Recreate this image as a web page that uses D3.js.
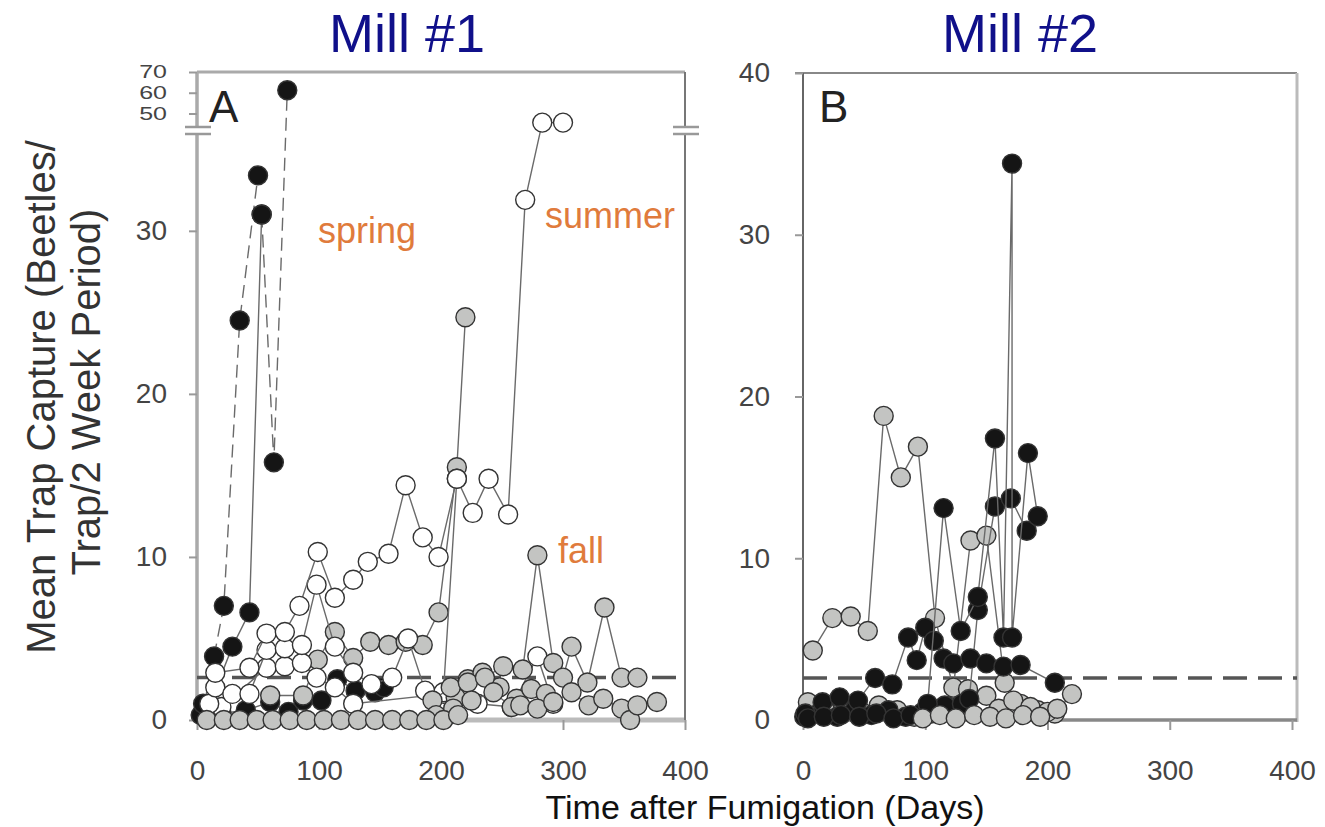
<!DOCTYPE html>
<html lang="en">
<head>
  <meta charset="UTF-8">
  <title>Mill #1 / Mill #2</title>
  <style>
    body { margin: 0; background: #fff; }
    svg { display: block; font-family: "Liberation Sans", Arial, sans-serif; }
    .tick text { fill: #444; font-size: 28px; }
  </style>
</head>
<body>
<svg id="chart" width="1325" height="827"></svg>

<script src="https://d3js.org/d3.v7.min.js"></script>
<script>
  // ---- Mill #1 data: [day, beetles/trap] ----
  const m1BlackDashA = [[4,0.3],[14,3.9],[22,7.0],[35,24.5],[50,33.4]];
  const m1BlackSolid = [[8,0.5],[29,4.5],[43,6.6],[53,31.0]];
  const m1BlackDashB = [[53,31.0],[63,15.8],[74,61.2]];
  const m1BlackLow = [[3,0.3],[5,1.0],[20,0.4],[40,0.6],[60,1.1],[75,0.5],[87,1.2],[102,1.2],[115,2.5],[130,1.8],[146,1.7],[153,2.0]];

  const m1GrayMid = [[60,1.5],[87,1.5],[99,3.7],[113,5.4],[128,3.8],[142,4.8],[157,4.6],[171,4.8],[185,4.6],[198,6.6],[213,15.5],[220,24.7]];
  const m1WhiteSummer = [[15,2.9],[43,3.2],[57,5.3],[72,5.4],[84,7.0],[99,10.3],[113,7.5],[128,8.6],[140,9.7],[157,10.2],[171,14.4],[185,11.2],[198,10.0],[213,14.8],[226,12.7],[239,14.8],[255,12.6],[269,31.9],[283,45.6],[300,45.6]];
  const m1WhiteB = [[10,1.0],[15,2.0],[29,1.6],[43,1.6],[57,4.3],[72,4.4],[86,4.6],[98,8.3],[113,4.5],[128,2.9],[143,2.2],[160,2.6],[173,5.0],[187,1.8],[202,1.7],[213,14.8]];
  const m1WhiteC = [[20,0.8],[57,3.2],[72,3.3],[86,3.5],[98,2.6],[113,2.0],[128,1.0],[202,1.6],[230,1.0],[258,0.8],[279,3.9],[292,1.0]];

  const m1GrayZero = [[8,0],[22,0],[35,0],[49,0],[62,0],[76,0],[90,0],[104,0],[118,0],[132,0],[146,0],[160,0],[174,0],[188,0],[202,0],[214,0.3]];
  const m1GrayFall1 = [[193,1.2],[208,2.0],[222,2.3],[236,2.6],[251,3.3],[267,3.1],[279,10.1],[292,3.5],[300,2.6],[307,4.5],[320,2.3],[334,6.9],[348,2.6],[361,2.6]];
  const m1GrayFall2 = [[196,0.3],[210,0.7],[225,1.2],[243,1.7],[258,0.8],[265,0.9],[279,0.7],[292,1.1],[307,1.7],[321,0.9],[333,1.3],[348,0.7],[355,0],[361,0.9],[377,1.1]];
  const m1GrayFall3 = [[212,1.4],[222,2.5],[234,2.9],[248,2.0],[262,1.3],[274,1.9],[286,1.6]];

  // ---- Mill #2 data ----
  const m2Gray1 = [[8,4.3],[24,6.3],[39,6.4],[53,5.5],[66,18.8],[80,15.0],[94,16.9],[108,6.3],[123,2.0],[137,11.1],[150,11.4],[165,2.3],[178,1.0],[192,0.6],[206,0.4],[220,1.6]];
  const m2Gray2 = [[4,1.1],[18,0.6],[33,0.9],[48,0.5],[62,0.9],[77,0.6],[91,0.2],[105,0.4],[120,0.8],[135,1.9],[150,1.5],[160,0.7],[172,1.2],[186,0.8],[200,0.5]];
  const m2BlackA = [[2,0.4],[16,1.1],[30,1.4],[45,1.2],[59,2.6],[73,2.2],[86,5.1],[93,3.7],[100,5.7],[107,4.9],[115,3.8],[123,3.5],[137,3.8],[150,3.5],[164,3.3],[178,3.4],[206,2.3]];
  const m2BlackB = [[4,0.1],[17,0.2],[31,0.3],[46,0.2],[60,0.4],[74,0.1],[88,0.3],[102,1.0],[115,13.1],[129,5.5],[143,7.6],[157,17.4],[164,5.1],[171,34.4],[171,5.1],[184,16.5],[192,12.6]];
  const m2BlackC = [[1,0.2],[14,0.5],[28,0.2],[42,0.6],[56,0.3],[70,0.6],[84,0.2],[98,0.5],[116,0.9],[130,1.0],[136,1.3],[143,6.8],[157,13.2],[170,13.7],[183,11.7]];
  const m2Gray3 = [[98,0.1],[112,0.3],[125,0.1],[140,0.3],[153,0.2],[166,0.1],[180,0.3],[194,0.2],[208,0.7]];

  const xTicks = [0, 100, 200, 300, 400];
  const yTicksA = [0, 10, 20, 30];
  const yTicksAHigh = [50, 60, 70];
  const yTicksB = [0, 10, 20, 30, 40];
  const threshold = 2.6;

  const FILL = { black: '#151515', gray: '#c3c4c2', white: '#ffffff' };
  const R = 9.5;

  const svg = d3.select('#chart');

  // scales
  const xA = d3.scaleLinear().domain([0, 400]).range([197, 685]);
  const yLo = d3.scaleLinear().domain([0, 36]).range([720, 133]);
  const yHi = d3.scaleLinear().domain([43, 70]).range([128, 72]);
  const yA = v => v > 40 ? yHi(v) : yLo(v);

  const xB = d3.scaleLinear().domain([0, 400]).range([803, 1292]);
  const yB = d3.scaleLinear().domain([0, 40]).range([720, 73]);

  // draws one series: connecting line then circles
  function drawSeries(g, data, x, y, fill, dashed) {
    const line = d3.line().x(d => x(d[0])).y(d => y(d[1]));
    g.append('path')
      .attr('d', line(data))
      .attr('fill', 'none')
      .attr('stroke', '#6a6a6a')
      .attr('stroke-width', 1.4)
      .attr('stroke-dasharray', dashed ? '13,7' : null);
    g.selectAll(null)
      .data(data)
      .enter().append('circle')
      .attr('cx', d => x(d[0]))
      .attr('cy', d => y(d[1]))
      .attr('r', R)
      .attr('fill', fill)
      .attr('stroke', '#333')
      .attr('stroke-width', 1.4);
  }

  function styleAxis(g) {
    g.select('.domain').remove();
    g.selectAll('.tick line').attr('stroke', '#999').attr('stroke-width', 2);
  }

  // ---------------- Panel A ----------------
  const gA = svg.append('g');

  // frame
  gA.append('line').attr('x1', 197).attr('x2', 685).attr('y1', 72).attr('y2', 72)
    .attr('stroke', '#aaa').attr('stroke-width', 3);
  gA.append('line').attr('x1', 197).attr('x2', 685).attr('y1', 720).attr('y2', 720)
    .attr('stroke', '#bbb').attr('stroke-width', 5);
  [[197, '#aaa', 3.5], [685, '#777', 2]].forEach(([xx, c, w]) => {
    gA.append('line').attr('x1', xx).attr('x2', xx).attr('y1', 72).attr('y2', 127)
      .attr('stroke', c).attr('stroke-width', w);
    gA.append('line').attr('x1', xx).attr('x2', xx).attr('y1', 134).attr('y2', 720)
      .attr('stroke', c).attr('stroke-width', w);
    [127, 134].forEach(yy => {
      gA.append('line').attr('x1', xx - 12).attr('x2', xx + 14).attr('y1', yy).attr('y2', yy)
        .attr('stroke', '#999').attr('stroke-width', 2.5);
    });
  });

  gA.append('g').attr('transform', 'translate(197,0)')
    .call(d3.axisLeft(yLo).tickValues(yTicksA).tickSize(8).tickPadding(22))
    .call(styleAxis);
  // upper (broken) segment: labels squeezed vertically like the original
  gA.append('g').attr('transform', 'translate(197,0)')
    .call(d3.axisLeft(yHi).tickValues(yTicksAHigh).tickSize(8).tickPadding(22))
    .call(styleAxis)
    .selectAll('text')
    .style('font-size', '25px')
    .attr('transform', 'scale(1,0.72)');
  gA.append('g').attr('transform', 'translate(0,720)')
    .call(d3.axisBottom(xA).tickValues(xTicks).tickSize(10).tickPadding(30))
    .call(styleAxis);

  gA.append('line').attr('x1', 197).attr('x2', 685)
    .attr('y1', yA(threshold)).attr('y2', yA(threshold))
    .attr('stroke', '#555').attr('stroke-width', 3.5).attr('stroke-dasharray', '24,11');

  drawSeries(gA, m1BlackDashA, xA, yA, FILL.black, true);
  drawSeries(gA, m1BlackSolid, xA, yA, FILL.black, false);
  drawSeries(gA, m1BlackDashB, xA, yA, FILL.black, true);
  drawSeries(gA, m1BlackLow, xA, yA, FILL.black, false);
  drawSeries(gA, m1GrayMid, xA, yA, FILL.gray, false);
  drawSeries(gA, m1WhiteC, xA, yA, FILL.white, false);
  drawSeries(gA, m1WhiteB, xA, yA, FILL.white, false);
  drawSeries(gA, m1WhiteSummer, xA, yA, FILL.white, false);
  drawSeries(gA, m1GrayFall3, xA, yA, FILL.gray, false);
  drawSeries(gA, m1GrayFall1, xA, yA, FILL.gray, false);
  drawSeries(gA, m1GrayFall2, xA, yA, FILL.gray, false);
  drawSeries(gA, m1GrayZero, xA, yA, FILL.gray, false);

  gA.append('text').attr('x', 209).attr('y', 122).text('A')
    .style('font-size', '44px').attr('fill', '#222');

  // ---------------- Panel B ----------------
  const gB = svg.append('g');
  gB.append('line').attr('x1', 795).attr('x2', 1297).attr('y1', 73).attr('y2', 73)
    .attr('stroke', '#888').attr('stroke-width', 2);
  gB.append('line').attr('x1', 1297).attr('x2', 1297).attr('y1', 73).attr('y2', 722)
    .attr('stroke', '#bbb').attr('stroke-width', 3);
  gB.append('line').attr('x1', 803).attr('x2', 1297).attr('y1', 720).attr('y2', 720)
    .attr('stroke', '#888').attr('stroke-width', 3.5);
  gB.append('line').attr('x1', 803).attr('x2', 803).attr('y1', 73).attr('y2', 722)
    .attr('stroke', '#666').attr('stroke-width', 2);

  gB.append('g').attr('transform', 'translate(803,0)')
    .call(d3.axisLeft(yB).tickValues(yTicksB).tickSize(8).tickPadding(25))
    .call(styleAxis);
  gB.append('g').attr('transform', 'translate(0,720)')
    .call(d3.axisBottom(xB).tickValues(xTicks).tickSize(10).tickPadding(30))
    .call(styleAxis);

  gB.append('line').attr('x1', 803).attr('x2', 1297)
    .attr('y1', yB(threshold)).attr('y2', yB(threshold))
    .attr('stroke', '#555').attr('stroke-width', 3.5).attr('stroke-dasharray', '24,11');

  drawSeries(gB, m2Gray1, xB, yB, FILL.gray, false);
  drawSeries(gB, m2Gray2, xB, yB, FILL.gray, false);
  drawSeries(gB, m2BlackC, xB, yB, FILL.black, false);
  drawSeries(gB, m2BlackA, xB, yB, FILL.black, false);
  drawSeries(gB, m2BlackB, xB, yB, FILL.black, false);
  drawSeries(gB, m2Gray3, xB, yB, FILL.gray, false);

  gB.append('text').attr('x', 819).attr('y', 122).text('B')
    .style('font-size', '44px').attr('fill', '#222');

  // ---------------- titles & labels ----------------
  svg.append('text').attr('x', 407).attr('y', 52).attr('text-anchor', 'middle')
    .style('font-size', '54px').attr('fill', '#10108a').text('Mill #1');
  svg.append('text').attr('x', 1020).attr('y', 52).attr('text-anchor', 'middle')
    .style('font-size', '54px').attr('fill', '#10108a').text('Mill #2');

  svg.append('text').attr('transform', 'translate(55,397) rotate(-90)')
    .attr('text-anchor', 'middle').style('font-size', '40px').attr('fill', '#333')
    .text('Mean Trap Capture (Beetles/');
  svg.append('text').attr('transform', 'translate(100,392) rotate(-90)')
    .attr('text-anchor', 'middle').style('font-size', '40px').attr('fill', '#333')
    .text('Trap/2 Week Period)');

  svg.append('text').attr('x', 765).attr('y', 819).attr('text-anchor', 'middle')
    .style('font-size', '34px').attr('fill', '#111').text('Time after Fumigation (Days)');

  const orange = '#e07b3c';
  svg.append('text').attr('x', 318).attr('y', 243).style('font-size', '36px')
    .attr('fill', orange).text('spring');
  svg.append('text').attr('x', 545).attr('y', 228).style('font-size', '36px')
    .attr('fill', orange).text('summer');
  svg.append('text').attr('x', 558).attr('y', 563).style('font-size', '36px')
    .attr('fill', orange).text('fall');
</script>
</body>
</html>
